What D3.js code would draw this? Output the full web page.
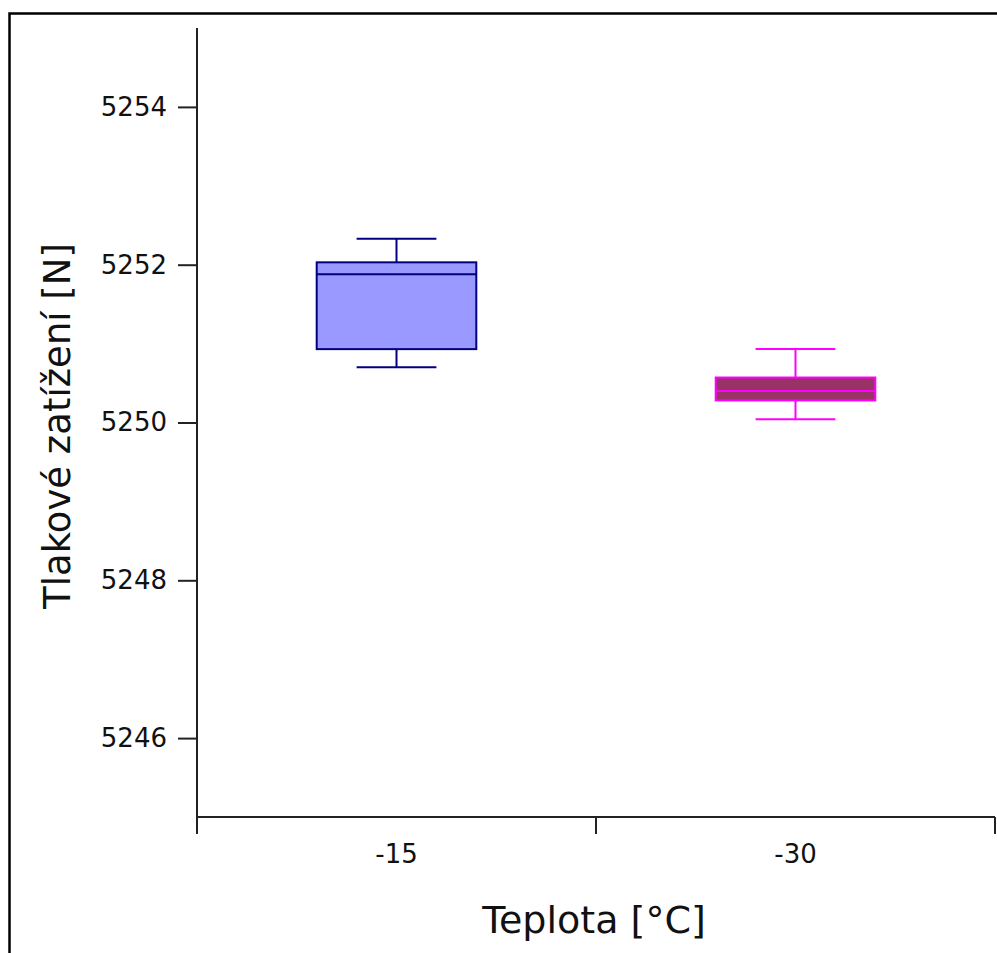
<!DOCTYPE html>
<html>
<head>
<meta charset="utf-8">
<script src="https://cdn.jsdelivr.net/npm/d3@7"></script>
<style>
  body { margin: 0; background: #fff; }
  svg text { font-family: Tahoma, "DejaVu Sans", sans-serif; fill: #111; }
</style>
</head>
<body>
<div class="chart-box"></div>
<script>
// categories (temperature) and box stats
var categories = ['-15', '-30'];
var whisker_lo = [5250.70, 5250.04];
var q1_vals    = [5250.93, 5250.28];
var median_vals = [5251.88, 5250.40];
var q3_vals    = [5252.03, 5250.57];
var whisker_hi = [5252.33, 5250.93];
var y_ticks = [5246, 5248, 5250, 5252, 5254];

var box_fill   = ['#9999ff', '#993366'];
var box_stroke = ['#000080', '#ff00ff'];

var width = 997,
    height = 953,
    margin = {top: 28, right: 2, bottom: 136, left: 197};

var svg = d3.select('.chart-box').append('svg')
    .attr('width', width)
    .attr('height', height);

// outer frame, runs off the right and bottom edge
svg.append('rect')
    .attr('x', 9.5).attr('y', 13.5)
    .attr('width', 1100).attr('height', 1100)
    .attr('fill', 'none')
    .attr('stroke', '#000')
    .attr('stroke-width', 2.5);

var plot_w = width - margin.left - margin.right,
    plot_h = height - margin.top - margin.bottom;

var g = svg.append('g')
    .attr('transform', 'translate(' + margin.left + ',' + margin.top + ')');

var x = d3.scaleBand().domain(categories).range([0, plot_w]).padding(0);
var y = d3.scaleLinear().domain([5245, 5255]).range([plot_h, 0]);

var boxes = categories.map(function(c, i) {
  return {cat: c, lo: whisker_lo[i], q1: q1_vals[i], med: median_vals[i],
          q3: q3_vals[i], hi: whisker_hi[i], fill: box_fill[i], stroke: box_stroke[i]};
});

var box_w = x.bandwidth() * 0.4,
    cap_w = box_w * 0.5;

var bg = g.selectAll('.box').data(boxes).enter().append('g')
    .attr('class', 'box')
    .attr('transform', function(d) { return 'translate(' + (x(d.cat) + x.bandwidth() / 2) + ',0)'; });

// whisker stems
bg.append('line')
    .attr('x1', 0).attr('x2', 0)
    .attr('y1', function(d) { return y(d.hi); })
    .attr('y2', function(d) { return y(d.q3); })
    .attr('stroke', function(d) { return d.stroke; }).attr('stroke-width', 2);
bg.append('line')
    .attr('x1', 0).attr('x2', 0)
    .attr('y1', function(d) { return y(d.q1); })
    .attr('y2', function(d) { return y(d.lo); })
    .attr('stroke', function(d) { return d.stroke; }).attr('stroke-width', 2);
// caps
bg.selectAll('.cap').data(function(d) { return [{v: d.hi, s: d.stroke}, {v: d.lo, s: d.stroke}]; })
  .enter().append('line')
    .attr('class', 'cap')
    .attr('x1', -cap_w / 2).attr('x2', cap_w / 2)
    .attr('y1', function(e) { return y(e.v); })
    .attr('y2', function(e) { return y(e.v); })
    .attr('stroke', function(e) { return e.s; }).attr('stroke-width', 2);

bg.append('rect')
    .attr('x', -box_w / 2)
    .attr('width', box_w)
    .attr('y', function(d) { return y(d.q3); })
    .attr('height', function(d) { return y(d.q1) - y(d.q3); })
    .attr('fill', function(d) { return d.fill; })
    .attr('stroke', function(d) { return d.stroke; })
    .attr('stroke-width', 2);

bg.append('line')
    .attr('x1', -box_w / 2).attr('x2', box_w / 2)
    .attr('y1', function(d) { return y(d.med); })
    .attr('y2', function(d) { return y(d.med); })
    .attr('stroke', function(d) { return d.stroke; }).attr('stroke-width', 2);

// axes
var yAxis = g.append('g')
    .call(d3.axisLeft(y).tickValues(y_ticks).tickFormat(d3.format('d')).tickSize(19).tickPadding(11));
var xAxis = g.append('g')
    .attr('transform', 'translate(0,' + plot_h + ')')
    .call(d3.axisBottom(x).tickSize(0).tickPadding(28));

// band boundary ticks on x axis
xAxis.selectAll('.edge').data([0, 1, 2]).enter().append('line')
    .attr('class', 'edge')
    .attr('x1', function(i) { return i * x.bandwidth(); })
    .attr('x2', function(i) { return i * x.bandwidth(); })
    .attr('y1', 0).attr('y2', 17)
    .attr('stroke', '#222').attr('stroke-width', 2);

[yAxis, xAxis].forEach(function(a) {
  a.select('.domain').attr('stroke', '#222').attr('stroke-width', 2);
  a.selectAll('.tick line').attr('stroke', '#222').attr('stroke-width', 2);
  a.selectAll('.tick text').style('font-size', '26px').attr('fill', '#111');
});
yAxis.select('.domain').attr('d', 'M0,0V' + plot_h);
xAxis.select('.domain').attr('d', 'M0,0H' + plot_w);

svg.append('text')
    .attr('x', 594).attr('y', 933)
    .attr('text-anchor', 'middle')
    .style('font-size', '38px')
    .text('Teplota [°C]');

svg.append('text')
    .attr('transform', 'translate(70,426) rotate(-90)')
    .attr('text-anchor', 'middle')
    .style('font-size', '37px')
    .text('Tlakové zatížení [N]');
</script>
</body>
</html>
